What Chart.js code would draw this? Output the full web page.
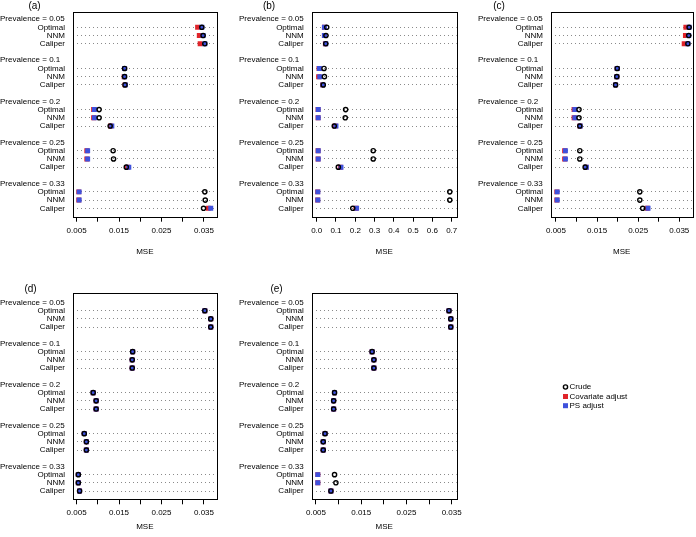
<!DOCTYPE html>
<html><head><meta charset="utf-8">
<script src="https://cdn.jsdelivr.net/npm/chart.js@4.4.0/dist/chart.umd.min.js"></script>
<style>
html,body{margin:0;padding:0;background:#fff;}
#wrap{position:relative;width:696px;height:537px;overflow:hidden;background:#fff;}
canvas{position:absolute;}
</style></head><body>
<div id="wrap">
<canvas id="pa" width="230" height="262" style="left:0;top:0;width:230px;height:262px"></canvas>
<canvas id="pb" width="240" height="262" style="left:230px;top:0;width:240px;height:262px"></canvas>
<canvas id="pc" width="236" height="262" style="left:460px;top:0;width:236px;height:262px"></canvas>
<canvas id="pd" width="230" height="275" style="left:0;top:262px;width:230px;height:275px"></canvas>
<canvas id="pe" width="250" height="275" style="left:230px;top:262px;width:250px;height:275px"></canvas>
<canvas id="leg" width="150" height="40" style="left:540px;top:375px;width:150px;height:40px"></canvas>
</div>
<script>
// ---- categories ----
const prevalences = ['0.05', '0.1', '0.2', '0.25', '0.33'];
const methods = ['Optimal', 'NNM', 'Caliper'];
const seriesNames = ['Crude', 'Covariate adjust', 'PS adjust'];

// ---- tick values / labels ----
const smallTicks = [0.005, 0.010, 0.015, 0.020, 0.025, 0.030, 0.035];
const smallTickLabels = ['0.005', '', '0.015', '', '0.025', '', '0.035'];
const bTicks = [0.0, 0.1, 0.2, 0.3, 0.4, 0.5, 0.6, 0.7];
const bTickLabels = ['0.0', '0.1', '0.2', '0.3', '0.4', '0.5', '0.6', '0.7'];

// ---- values: [prevalence][method] ----
const aCrude     = [[0.0345, 0.0348, 0.0352], [0.0163, 0.0163, 0.0164], [0.0103, 0.0103, 0.0129], [0.0136, 0.0137, 0.0167], [0.0352, 0.0353, 0.0349]];
const aCovariate = [[0.0335, 0.0339, 0.0341], [0.0163, 0.0162, 0.0164], [0.0090, 0.0090, 0.0130], [0.0074, 0.0074, 0.0170], [0.0055, 0.0055, 0.0360]];
const aPS        = [[0.0345, 0.0348, 0.0352], [0.0163, 0.0163, 0.0165], [0.0092, 0.0092, 0.0133], [0.0076, 0.0076, 0.0173], [0.0056, 0.0056, 0.0366]];

const bCrude     = [[0.052, 0.048, 0.047], [0.038, 0.040, 0.034], [0.150, 0.148, 0.091], [0.293, 0.293, 0.112], [0.690, 0.690, 0.187]];
const bCovariate = [[0.040, 0.040, 0.045], [0.012, 0.010, 0.030], [0.007, 0.007, 0.095], [0.007, 0.007, 0.122], [0.005, 0.005, 0.203]];
const bPS        = [[0.040, 0.040, 0.047], [0.014, 0.016, 0.032], [0.008, 0.008, 0.100], [0.008, 0.008, 0.126], [0.006, 0.006, 0.207]];

const cCrude     = [[0.0374, 0.0373, 0.0371], [0.0199, 0.0198, 0.0195], [0.0106, 0.0106, 0.0108], [0.0108, 0.0108, 0.0121], [0.0254, 0.0254, 0.0261]];
const cCovariate = [[0.0366, 0.0365, 0.0362], [0.0199, 0.0198, 0.0195], [0.0094, 0.0094, 0.0108], [0.0071, 0.0071, 0.0123], [0.0052, 0.0052, 0.0272]];
const cPS        = [[0.0374, 0.0373, 0.0371], [0.0199, 0.0198, 0.0195], [0.0096, 0.0096, 0.0109], [0.0073, 0.0073, 0.0124], [0.0053, 0.0053, 0.0274]];

const dCrude     = [[0.0352, 0.0366, 0.0366], [0.0182, 0.0181, 0.0181], [0.0089, 0.0096, 0.0096], [0.0068, 0.0073, 0.0073], [0.0054, 0.0054, 0.0057]];
const dCovariate = [[0.0352, 0.0366, 0.0366], [0.0182, 0.0181, 0.0181], [0.0089, 0.0096, 0.0096], [0.0068, 0.0073, 0.0073], [0.0054, 0.0054, 0.0057]];
const dPS        = [[0.0352, 0.0366, 0.0366], [0.0182, 0.0181, 0.0181], [0.0089, 0.0096, 0.0096], [0.0068, 0.0073, 0.0073], [0.0054, 0.0054, 0.0057]];

const eCrude     = [[0.0344, 0.0348, 0.0348], [0.0174, 0.0178, 0.0178], [0.0091, 0.0089, 0.0089], [0.0070, 0.0066, 0.0066], [0.0091, 0.0094, 0.0083]];
const eCovariate = [[0.0344, 0.0348, 0.0348], [0.0174, 0.0178, 0.0178], [0.0091, 0.0089, 0.0089], [0.0070, 0.0066, 0.0066], [0.0054, 0.0054, 0.0083]];
const ePS        = [[0.0344, 0.0348, 0.0348], [0.0174, 0.0178, 0.0178], [0.0091, 0.0089, 0.0089], [0.0070, 0.0066, 0.0066], [0.0054, 0.0054, 0.0083]];

// ---- rendering ----
const FONT = "'Liberation Sans', Arial, Helvetica, sans-serif";
Chart.defaults.font.family = FONT;
Chart.defaults.font.size = 8;
Chart.defaults.color = '#000';

const RED = '#e0242a', BLUE = '#3f51dc';

const rowPositions = [];
prevalences.forEach((p, g) => methods.forEach((m, k) => rowPositions.push(5 * g + k + 1)));

function toPoints(arr) {
  const pts = [];
  arr.forEach((row, g) => row.forEach((v, k) => pts.push({ x: v, y: 5 * g + k + 1 })));
  return pts;
}

const deco = {
  id: 'deco',
  afterDatasetsDraw(chart, args, o) {
    const { ctx, chartArea: a, scales: { y } } = chart;
    ctx.save();
    ctx.strokeStyle = '#000';
    ctx.lineWidth = 1;
    ctx.strokeRect(Math.round(a.left) + 0.5, Math.round(a.top) + 0.5, Math.round(a.right - a.left), Math.round(a.bottom - a.top));
    ctx.fillStyle = '#000';
    ctx.font = '8px ' + FONT;
    ctx.textAlign = 'left';
    ctx.textBaseline = 'middle';
    prevalences.forEach((p, g) => ctx.fillText('Prevalence = ' + p, o.headerX, y.getPixelForValue(5 * g)));
    ctx.font = '10px ' + FONT;
    ctx.textAlign = 'center';
    ctx.fillText(o.title, o.titleX, o.titleY);
    ctx.restore();
  }
};

const panels = [
  { id: 'pa', title: '(a)', s: [aCrude, aCovariate, aPS], ticks: smallTicks, labels: smallTickLabels, xmin: 0.00415, xmax: 0.0380, row: 0, yW: 73, padR: 13.3, headerX: 0, titleX: 34.5 },
  { id: 'pb', title: '(b)', s: [bCrude, bCovariate, bPS], ticks: bTicks, labels: bTickLabels, xmin: -0.0259, xmax: 0.7258, row: 0, yW: 81.7, padR: 13.3, headerX: 9, titleX: 39 },
  { id: 'pc', title: '(c)', s: [cCrude, cCovariate, cPS], ticks: smallTicks, labels: smallTickLabels, xmin: 0.00379, xmax: 0.03822, row: 0, yW: 91, padR: 2.7, headerX: 18, titleX: 39 },
  { id: 'pd', title: '(d)', s: [dCrude, dCovariate, dPS], ticks: smallTicks, labels: smallTickLabels, xmin: 0.00415, xmax: 0.0380, row: 1, yW: 73, padR: 13.3, headerX: 0, titleX: 30.5 },
  { id: 'pe', title: '(e)', s: [eCrude, eCovariate, ePS], ticks: smallTicks, labels: smallTickLabels, xmin: 0.00405, xmax: 0.03611, row: 1, yW: 81.7, padR: 23.3, headerX: 9, titleX: 46.5 }
];

const rowGeom = [
  { padTop: 12, xH: 45.3, ymin: -0.86, ymax: 24.02, titleY: 6.7 },
  { padTop: 31.3, xH: 37.7, ymin: -1.12, ymax: 24.01, titleY: 27 }
];

panels.forEach(P => {
  const G = rowGeom[P.row];
  const styles = [
    { pointStyle: 'circle', pointRadius: 2.1, pointBorderWidth: 1.4, pointBorderColor: '#000', pointBackgroundColor: 'rgba(0,0,0,0)', order: 1 },
    { pointStyle: 'rect', pointRadius: 3.5, pointBorderWidth: 0, pointBorderColor: RED, pointBackgroundColor: RED, order: 3 },
    { pointStyle: 'rect', pointRadius: 3.5, pointBorderWidth: 0, pointBorderColor: BLUE, pointBackgroundColor: BLUE, order: 2 }
  ];
  const datasets = seriesNames.map((name, i) => Object.assign({
    label: name, data: toPoints(P.s[i]), showLine: false, pointHoverRadius: 0
  }, styles[i]));
  new Chart(document.getElementById(P.id), {
    type: 'scatter',
    data: { datasets },
    options: {
      responsive: false, animation: false, devicePixelRatio: 1,
      layout: { padding: { top: G.padTop, right: P.padR, left: 0, bottom: 0 } },
      plugins: { legend: { display: false }, tooltip: { enabled: false },
        deco: { headerX: P.headerX, title: P.title, titleX: P.titleX, titleY: G.titleY } },
      events: [],
      scales: {
        x: {
          type: 'linear', min: P.xmin, max: P.xmax,
          afterBuildTicks: s => { s.ticks = P.ticks.map(v => ({ value: v })); },
          afterFit: s => { s.height = G.xH; s.paddingLeft = 0; s.paddingRight = 0; },
          ticks: { callback: (v, i) => P.labels[i], autoSkip: false, maxRotation: 0, minRotation: 0, padding: 4, color: '#000', font: { size: 8 } },
          grid: { drawOnChartArea: false, drawTicks: true, tickLength: 5, color: '#000', lineWidth: 1 },
          border: { display: false },
          title: { display: true, text: 'MSE', color: '#000', font: { size: 8 }, padding: { top: 0, bottom: 5 } }
        },
        y: {
          type: 'linear', reverse: true, min: G.ymin, max: G.ymax,
          afterBuildTicks: s => { s.ticks = rowPositions.map(v => ({ value: v })); },
          afterFit: s => { s.width = P.yW; s.paddingTop = 0; s.paddingBottom = 0; },
          ticks: { callback: v => methods[(Math.round(v) % 5) - 1], autoSkip: false, padding: 8, color: '#000', font: { size: 8 }, crossAlign: 'near' },
          grid: { drawTicks: false, color: '#8a8a8a', lineWidth: 1 },
          border: { display: false, dash: [1, 3] }
        }
      }
    },
    plugins: [deco]
  });
});

// ---- legend (canvas offset: left 540, top 375) ----
(function () {
  const ctx = document.getElementById('leg').getContext('2d');
  const mx = 25.5, tx = 29.5, ys = [12, 21.5, 30.7];
  ctx.fillStyle = '#000';
  ctx.font = '8px ' + FONT;
  ctx.textAlign = 'left';
  ctx.textBaseline = 'middle';
  seriesNames.forEach((n, i) => ctx.fillText(n, tx, ys[i]));
  ctx.lineWidth = 1.4;
  ctx.strokeStyle = '#000';
  ctx.beginPath(); ctx.arc(mx, ys[0], 2.1, 0, Math.PI * 2); ctx.stroke();
  ctx.fillStyle = RED; ctx.fillRect(mx - 2.5, ys[1] - 2.5, 5, 5);
  ctx.fillStyle = BLUE; ctx.fillRect(mx - 2.5, ys[2] - 2.5, 5, 5);
})();
</script>
</body></html>
